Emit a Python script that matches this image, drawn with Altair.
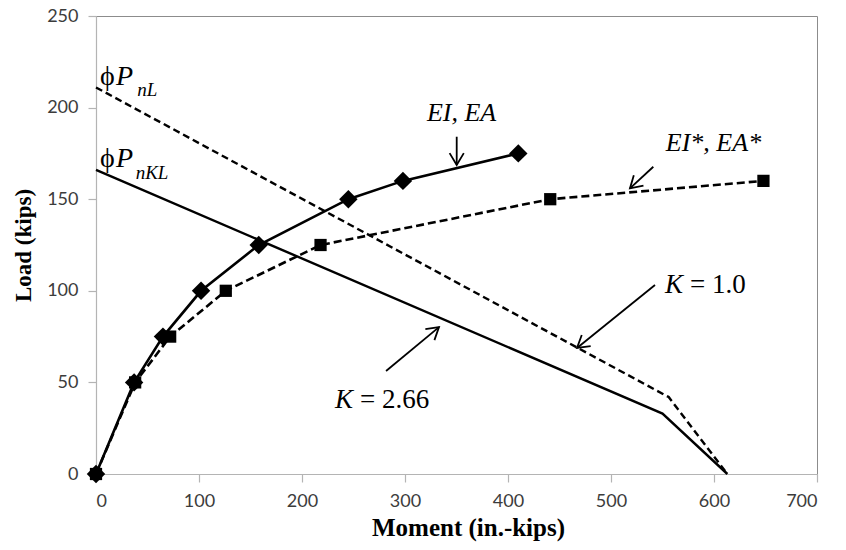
import math
import altair as alt
import pandas as pd

# ---------------- data ----------------
# EI, EA curve (diamonds, solid)
ei_moment = [0, 37, 65, 102, 158, 245, 298, 410]
ei_load = [0, 50, 75, 100, 125, 150, 160, 175]
# EI*, EA* curve (squares, dashed)
eis_moment = [0, 38, 72, 126, 218, 441, 648]
eis_load = [0, 50, 75, 100, 125, 150, 160]
# phi PnL interaction (dashed, K = 1.0)
pnl_moment = [0, 556, 613]
pnl_load = [211, 42, 0]
# phi PnKL interaction (solid, K = 2.66)
pnkl_moment = [0, 550, 613]
pnkl_load = [166, 33, 0]

x_ticks = [0, 100, 200, 300, 400, 500, 600, 700]
y_ticks = [0, 50, 100, 150, 200, 250]

# annotation arrows (start -> tip), in data units
arrow_x = [350.2, 541.1, 542.7, 281.6]
arrow_y = [184.1, 167.7, 103.2, 56.2]
arrow_x2 = [350.2, 518.4, 467.0, 333.0]
arrow_y2 = [168.7, 155.9, 68.8, 80.2]

# ---------------- layout ----------------
W, H = 721, 458
X_MAX, Y_MAX = 700, 250

def curve(xs, ys):
    return pd.DataFrame({"x": xs, "y": ys, "o": list(range(len(xs)))})

X = alt.X("x:Q", scale=alt.Scale(domain=[0, X_MAX], nice=False),
          axis=alt.Axis(values=x_ticks, title="Moment (in.-kips)", titleX=372,
                        labelPadding=10, titlePadding=5))
Y = alt.Y("y:Q", scale=alt.Scale(domain=[0, Y_MAX], nice=False),
          axis=alt.Axis(values=y_ticks, title="Load (kips)", labelPadding=10,
                        titlePadding=11))

def line(df, dash, width=2.6):
    kw = dict(color="black", strokeWidth=width)
    if dash:
        kw["strokeDash"] = dash
    return alt.Chart(df).mark_line(**kw).encode(x=X, y=Y, order="o:Q")

def pts(df, shape, size):
    return alt.Chart(df).mark_point(shape=shape, size=size, filled=True,
                                    color="black", opacity=1).encode(x=X, y=Y)

ei = curve(ei_moment, ei_load)
eis = curve(eis_moment, eis_load)
pnl = curve(pnl_moment, pnl_load)
pnkl = curve(pnkl_moment, pnkl_load)

layers = [
    line(pnl, [7, 4], 2.4),
    line(pnkl, None, 2.4),
    line(eis, [8, 4], 2.6),
    pts(eis, "square", 150),
    line(ei, None, 2.6),
    pts(ei, "diamond", 340),
]

# arrows
arrows = pd.DataFrame({"x": arrow_x, "y": arrow_y, "x2": arrow_x2, "y2": arrow_y2})
arrows["angle"] = [
    math.degrees(math.atan2(-(b2 - b) * H / Y_MAX, (a2 - a) * W / X_MAX)) % 360
    for a, b, a2, b2 in zip(arrow_x, arrow_y, arrow_x2, arrow_y2)
]
layers.append(
    alt.Chart(arrows).mark_rule(color="black", strokeWidth=1.8).encode(
        x=X, y=Y, x2="x2:Q", y2="y2:Q")
)
heads = arrows[["x2", "y2", "angle"]].rename(columns={"x2": "x", "y2": "y"})
layers.append(
    alt.Chart(heads).mark_point(shape="M-1,-0.6L0,0L-1,0.6", size=560, filled=False,
                                color="black", strokeWidth=1.8, opacity=1).encode(
        x=X, y=Y, angle=alt.Angle("angle:Q", scale=None))
)

# text annotations
SERIF = "Liberation Serif"

def txt(xs, ys, texts, size, style="normal", align="left"):
    df = pd.DataFrame({"x": xs, "y": ys, "t": texts})
    return alt.Chart(df).mark_text(font=SERIF, fontSize=size, fontStyle=style,
                                   align=align, baseline="alphabetic",
                                   color="black").encode(x=X, y=Y, text="t:N")

layers += [
    txt([4.0, 4.0], [212.3, 167.7], ["\u03d5", "\u03d5"], 28),
    txt([19.5, 19.5], [212.3, 167.7], ["P", "P"], 28, "italic"),
    txt([40.0, 38.5], [206.3, 161.2], ["nL", "nKL"], 19, "italic"),
    txt([354.9, 599.5], [192.9, 176.5], ["EI, EA", "EI*, EA*"], 26, "italic", "center"),
    txt([552.4, 232.0], [98.6, 35.9], ["K", "K"], 27, "italic"),
    txt([576.7, 256.3], [98.6, 35.9], ["= 1.0", "= 2.66"], 27),
]

chart = alt.layer(*layers).properties(
    width=W, height=H,
    autosize=alt.AutoSizeParams(type="none"),
    padding={"left": 96, "top": 16, "right": 29, "bottom": 76},
).configure_view(
    stroke="#8c8c8c", strokeWidth=1
).configure_axis(
    grid=False,
    domainColor="#b4b4b4", domainWidth=1.2,
    tickColor="#b4b4b4", tickSize=8, tickWidth=1.2,
    labelFont="Lato", labelFontSize=18, labelColor="#3c3c3c",
    titleFont=SERIF, titleFontWeight="bold", titleColor="black",
).configure_axisX(titleFontSize=25).configure_axisY(titleFontSize=23)

chart.save("out.html", embed_options={"renderer": "svg", "actions": False})
